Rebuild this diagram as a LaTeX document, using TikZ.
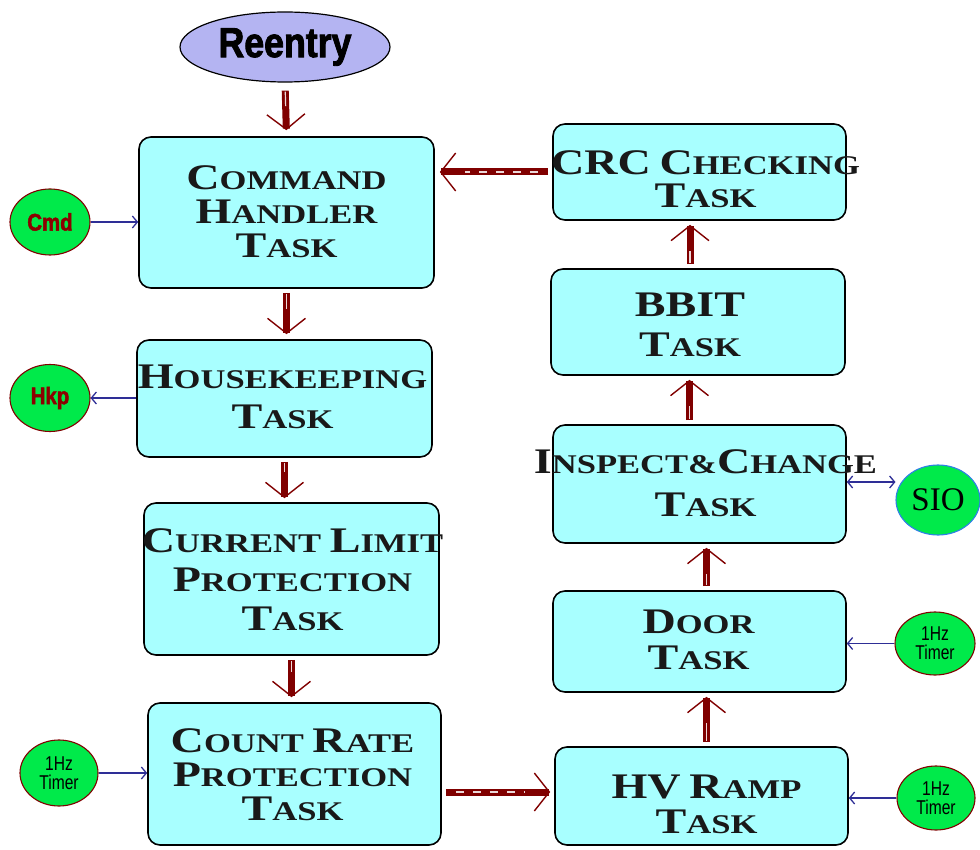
\documentclass[tikz,border=0pt]{standalone}
\usepackage{fontspec}
\usetikzlibrary{shapes.geometric,arrows.meta}
\newfontfamily\cpfont[FakeStretch=1.28]{Liberation Serif}
\newfontfamily\impfont[FakeStretch=0.85,FakeBold=2]{Liberation Sans}
\newfontfamily\narrowfont[FakeStretch=0.78]{Liberation Sans}
\newfontfamily\siofont{Liberation Serif}
\definecolor{boxfill}{HTML}{A8FFFF}
\definecolor{ovalgreen}{HTML}{00EA4A}
\definecolor{lavender}{HTML}{B4B4F2}
\definecolor{flowred}{HTML}{800000}
\definecolor{cmdred}{HTML}{8C0000}
\definecolor{sigblue}{HTML}{2E2E96}
\definecolor{siorim}{HTML}{2F7FE8}
% capital initial followed by smaller capitals
\newcommand\Wd[2]{{\fontsize{36}{36}\selectfont #1}#2}
\begin{document}
\begin{tikzpicture}[x=1pt,y=-1pt,
  taskbox/.style={draw=black, line width=1.6pt, fill=boxfill, rounded corners=12pt, inner sep=0pt},
  tasktext/.style={align=center, text=black!90, inner sep=0pt},
  greenoval/.style={ellipse, draw=flowred, line width=1.1pt, fill=ovalgreen, inner sep=0pt},
  timertext/.style={align=center, font=\narrowfont\fontsize{20}{19}\selectfont},
  sig/.style={draw=sigblue, line width=1.3pt, -{Straight Barb[length=5pt,width=12pt]}},
  fat/.style={draw=flowred, line width=7pt, -{Straight Barb[length=15pt,width=38pt,line width'=1.4pt]}},
  whitedash/.style={draw=white!85!flowred, line width=1.4pt, dash pattern=on 8pt off 9pt},
  whitetail/.style={draw=white!85!flowred, line width=1.2pt}]
\useasboundingbox (0,0) rectangle (980,850);

% task boxes
\node[taskbox, minimum width=295pt, minimum height=151pt] (cmd)   at (286.5,212.5) {};
\node[taskbox, minimum width=295pt, minimum height=117pt] (house) at (284.5,398.5) {};
\node[taskbox, minimum width=295pt, minimum height=152pt] (curr)  at (291.5,579) {};
\node[taskbox, minimum width=293pt, minimum height=142pt] (count) at (294.5,774) {};
\node[taskbox, minimum width=293pt, minimum height=96pt]  (crc)   at (699.5,172) {};
\node[taskbox, minimum width=294pt, minimum height=106pt] (bbit)  at (698,322) {};
\node[taskbox, minimum width=293pt, minimum height=118pt] (insp)  at (699.5,484) {};
\node[taskbox, minimum width=293pt, minimum height=101pt] (door)  at (699.5,641.5) {};
\node[taskbox, minimum width=293pt, minimum height=98pt]  (hv)    at (701.5,796) {};

% task labels
\node[tasktext, font=\cpfont\bfseries\fontsize{27}{34}\selectfont] (cmdT) at ([yshift=1]cmd.center)
  {\Wd{C}{OMMAND}\\\Wd{H}{ANDLER}\\\Wd{T}{ASK}};
\node[tasktext, font=\cpfont\bfseries\fontsize{27}{40}\selectfont] (houseT) at ([xshift=-2,yshift=2]house.center)
  {\Wd{H}{OUSEKEEPING}\\\Wd{T}{ASK}};
\node[tasktext, font=\cpfont\bfseries\fontsize{27}{39}\selectfont] (currT) at ([xshift=1,yshift=-1]curr.center)
  {\Wd{C}{URRENT} \Wd{L}{IMIT}\\\Wd{P}{ROTECTION}\\\Wd{T}{ASK}};
\node[tasktext, font=\cpfont\bfseries\fontsize{27}{34}\selectfont] (countT) at ([xshift=-2,yshift=-1]count.center)
  {\Wd{C}{OUNT} \Wd{R}{ATE}\\\Wd{P}{ROTECTION}\\\Wd{T}{ASK}};
\node[tasktext, font=\cpfont\bfseries\fontsize{27}{33}\selectfont] (crcT) at ([xshift=6,yshift=-7]crc.center)
  {\Wd{CRC}{} \Wd{C}{HECKING}\\\Wd{T}{ASK}};
\node[tasktext, font=\cpfont\bfseries\fontsize{27}{40}\selectfont] (bbitT) at ([xshift=-8,yshift=-3]bbit.center)
  {\Wd{BBIT}{}\\\Wd{T}{ASK}};
\node[tasktext, font=\cpfont\bfseries\fontsize{27}{43}\selectfont] (inspT) at ([xshift=6,yshift=1]insp.center)
  {\Wd{I}{NSPECT}\&\Wd{C}{HANGE}\\\Wd{T}{ASK}};
\node[tasktext, font=\cpfont\bfseries\fontsize{27}{36}\selectfont] (doorT) at ([xshift=-1,yshift=2]door.center)
  {\Wd{D}{OOR}\\\Wd{T}{ASK}};
\node[tasktext, font=\cpfont\bfseries\fontsize{27}{35}\selectfont] (hvT) at ([xshift=5,yshift=-8]hv.center)
  {\Wd{HV}{} \Wd{R}{AMP}\\\Wd{T}{ASK}};

% entry point
\node[ellipse, draw=black, line width=1.2pt, fill=lavender, minimum width=210pt, minimum height=70pt, inner sep=0pt,
      font=\impfont\bfseries\fontsize{42}{42}\selectfont] (reentry) at (285,47) {Reentry};

% external sources and sinks
\node[greenoval, minimum width=80pt, minimum height=66pt, text=cmdred,
      font=\impfont\bfseries\fontsize{24}{24}\selectfont] (cmdE) at (50,222) {Cmd};
\node[greenoval, minimum width=80pt, minimum height=67pt, text=cmdred,
      font=\impfont\bfseries\fontsize{24}{24}\selectfont] (hkpE) at (50,398) {Hkp};
\node[greenoval, minimum width=78pt, minimum height=66pt] (tmA) at (59,773) {};
\node[timertext] at (tmA) {1Hz\\Timer};
\node[ellipse, draw=siorim, line width=1.1pt, fill=ovalgreen, minimum width=84pt, minimum height=70pt, inner sep=0pt,
      font=\siofont\fontsize{33}{33}\selectfont] (sio) at (938,500) {SIO};
\node[greenoval, minimum width=80pt, minimum height=63pt] (tmB) at (935,643.5) {};
\node[timertext] at (tmB) {1Hz\\Timer};
\node[greenoval, minimum width=78pt, minimum height=64pt] (tmC) at (936,798) {};
\node[timertext] at (tmC) {1Hz\\Timer};

% signal lines
\draw[sig] (cmdE.east) -- (cmdE.east -| cmd.west);
\draw[sig] (house.west |- hkpE.east) -- (hkpE.east);
\draw[sig] (tmA.east) -- (tmA.east -| count.west);
\draw[sig, {Straight Barb[length=5pt,width=12pt]}-{Straight Barb[length=5pt,width=12pt]}] ([yshift=2]insp.east) -- ([yshift=2]insp.east -| sio.west);
\draw[sig] (tmB.west) -- (tmB.west -| door.east);
\draw[sig] (tmC.west) -- (tmC.west -| hv.east);

% control flow
\draw[fat, shorten <=8pt, shorten >=6pt] (reentry.south) -- (cmd.north);
\draw[whitetail, shorten <=9pt, shorten >=30pt] (reentry.south) -- (cmd.north);

\draw[fat, shorten <=4pt, shorten >=5pt] (cmd.south) -- (cmd.south |- house.north);
\draw[whitetail, shorten <=5pt, shorten >=30pt] (cmd.south) -- (cmd.south |- house.north);

\draw[fat, shorten <=4pt, shorten >=4pt] (house.south) -- (house.south |- curr.north);
\draw[whitetail, shorten <=5pt, shorten >=30pt] (house.south) -- (house.south |- curr.north);

\draw[fat, shorten <=4pt, shorten >=5pt] (curr.south) -- (curr.south |- count.north);
\draw[whitetail, shorten <=5pt, shorten >=30pt] (curr.south) -- (curr.south |- count.north);

\draw[fat, shorten <=4pt, shorten >=4pt] ([yshift=4]count.east |- hv.west) -- ([yshift=4]hv.west);
\draw[whitedash, shorten <=14pt, shorten >=30pt] ([yshift=4]count.east |- hv.west) -- ([yshift=4]hv.west);

\draw[fat, shorten <=4pt, shorten >=4pt] ([xshift=5]hv.north) -- ([xshift=5]hv.north |- door.south);
\draw[whitetail, shorten <=5pt, shorten >=30pt] ([xshift=5]hv.north) -- ([xshift=5]hv.north |- door.south);

\draw[fat, shorten <=4pt, shorten >=4pt] ([xshift=7]door.north) -- ([xshift=7]door.north |- insp.south);
\draw[whitetail, shorten <=5pt, shorten >=30pt] ([xshift=7]door.north) -- ([xshift=7]door.north |- insp.south);

\draw[fat, shorten <=4pt, shorten >=4pt] ([xshift=-10]insp.north) -- ([xshift=-10]insp.north |- bbit.south);
\draw[whitetail, shorten <=5pt, shorten >=30pt] ([xshift=-10]insp.north) -- ([xshift=-10]insp.north |- bbit.south);

\draw[fat, shorten <=4pt, shorten >=4pt] ([xshift=-8]bbit.north) -- ([xshift=-8]bbit.north |- crc.south);
\draw[whitetail, shorten <=5pt, shorten >=30pt] ([xshift=-8]bbit.north) -- ([xshift=-8]bbit.north |- crc.south);

\draw[fat, shorten <=4pt, shorten >=5pt] (crc.west) -- (crc.west -| cmd.east);
\draw[whitedash, shorten <=14pt, shorten >=30pt] (crc.west) -- (crc.west -| cmd.east);
\end{tikzpicture}
\end{document}
